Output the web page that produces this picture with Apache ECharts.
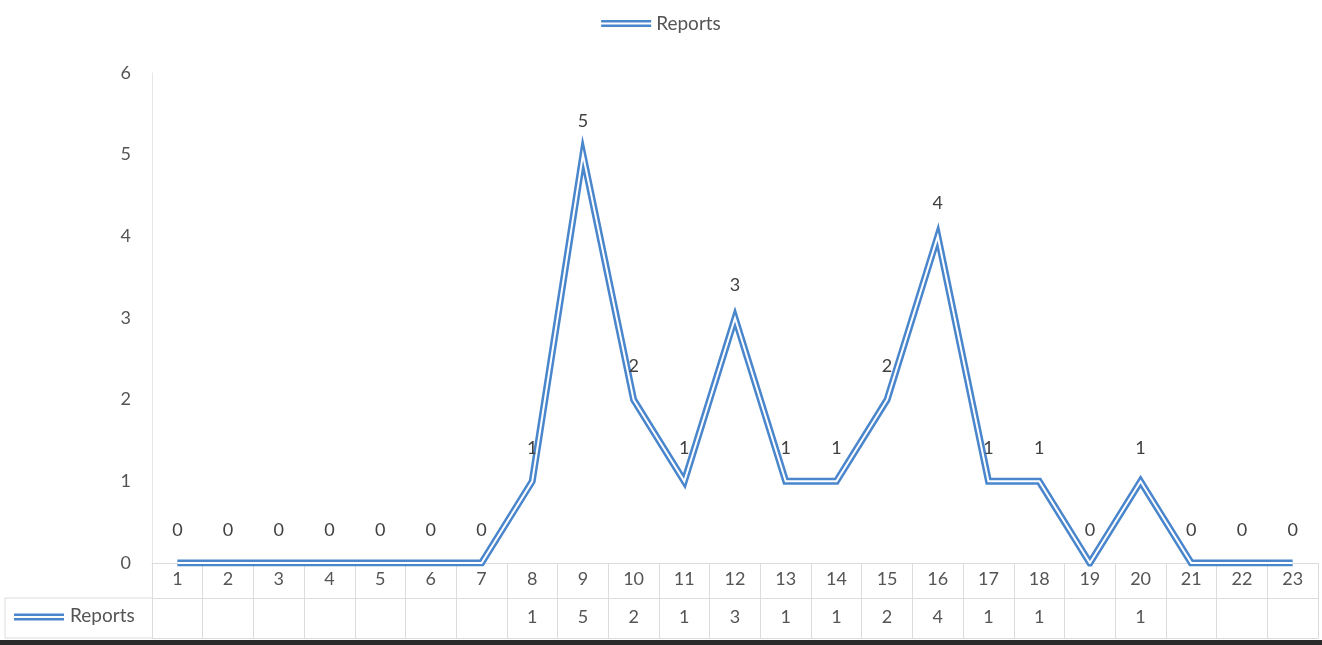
<!DOCTYPE html>
<html>
<head>
<meta charset="utf-8">
<script src="https://cdn.jsdelivr.net/npm/echarts@6/dist/echarts.min.js"></script>
<style>
html,body{margin:0;padding:0;background:#fff;}
#c{width:1322px;height:645px;}
</style>
</head>
<body>
<div id="c"></div>
<script>
const categories = ['1','2','3','4','5','6','7','8','9','10','11','12','13','14','15','16','17','18','19','20','21','22','23'];
const reports = [0,0,0,0,0,0,0,1,5,2,1,3,1,1,2,4,1,1,0,1,0,0,0];
const tableRow = reports.map(v => v === 0 ? '' : String(v));
const yTicks = {min: 0, max: 6, interval: 1};

const FONT = 'Lato, "Open Sans", sans-serif';
const TXT = '#555555';
const BLUE = '#4a86cc';
const GRID = '#dcdcdc';
const iconPath = 'path://M0,0H50V2.4H0Z M0,4.6H50V7H0Z';

const chart = echarts.init(document.getElementById('c'));
chart.setOption({
  animation: false,
  backgroundColor: '#fff',
  textStyle: {fontFamily: FONT},
  legend: {
    top: 9, left: 'center',
    data: [{name: 'Reports', icon: iconPath}],
    itemWidth: 50, itemHeight: 7, itemGap: 6,
    textStyle: {color: TXT, fontSize: 19, fontFamily: FONT},
    itemStyle: {color: BLUE}
  },
  grid: {left: 152, right: 4, top: 73, bottom: 82, containLabel: false},
  xAxis: [
    {
      type: 'category', data: categories, boundaryGap: true,
      axisLine: {show: true, lineStyle: {color: GRID, width: 1}},
      axisTick: {show: true, interval: 0, length: 75, lineStyle: {color: GRID}},
      axisLabel: {color: TXT, fontSize: 18, margin: 7, fontFamily: FONT, interval: 0}
    },
    {
      type: 'category', data: tableRow, position: 'bottom', offset: 35,
      axisLine: {show: true, lineStyle: {color: GRID, width: 1}},
      axisTick: {show: false},
      axisLabel: {color: TXT, fontSize: 18, margin: 10, fontFamily: FONT, interval: 0}
    },
    {
      type: 'category', data: categories, position: 'bottom', offset: 75,
      axisLine: {show: true, lineStyle: {color: GRID, width: 1}},
      axisTick: {show: false},
      axisLabel: {show: false}
    }
  ],
  yAxis: {
    type: 'value', min: yTicks.min, max: yTicks.max, interval: yTicks.interval,
    axisLine: {show: true, lineStyle: {color: '#e6e6e6'}},
    axisTick: {show: false},
    splitLine: {show: false},
    axisLabel: {color: TXT, fontSize: 18, margin: 21, fontFamily: FONT}
  },
  series: [
    {
      name: 'Reports', type: 'line', data: reports,
      symbol: 'circle', symbolSize: 0.1, showSymbol: true,
      lineStyle: {color: BLUE, width: 7, join: 'miter'},
      itemStyle: {color: BLUE},
      label: {show: true, position: 'top', distance: 24, color: '#404040', fontSize: 18, fontFamily: FONT},
      labelLayout: {hideOverlap: false},
      z: 2
    },
    {
      name: 'Reports', type: 'line', data: reports,
      symbol: 'none',
      lineStyle: {color: '#ffffff', width: 2, join: 'miter'},
      itemStyle: {color: BLUE},
      label: {show: false},
      z: 3, silent: true
    }
  ],
  graphic: [
    {type: 'line', shape: {x1: 5, y1: 598, x2: 152, y2: 598}, style: {stroke: GRID, lineWidth: 1}},
    {type: 'line', shape: {x1: 5, y1: 638, x2: 152, y2: 638}, style: {stroke: GRID, lineWidth: 1}},
    {type: 'line', shape: {x1: 5, y1: 598, x2: 5, y2: 638}, style: {stroke: GRID, lineWidth: 1}},
    {type: 'rect', shape: {x: 14, y: 613.5, width: 50, height: 2.4}, style: {fill: BLUE}},
    {type: 'rect', shape: {x: 14, y: 618.1, width: 50, height: 2.4}, style: {fill: BLUE}},
    {type: 'text', left: 70, top: 606, style: {text: 'Reports', fill: TXT, font: '19px ' + FONT}},
    {type: 'rect', shape: {x: 0, y: 640, width: 1322, height: 5}, style: {fill: '#2a2a2a'}}
  ]
});
</script>
</body>
</html>
